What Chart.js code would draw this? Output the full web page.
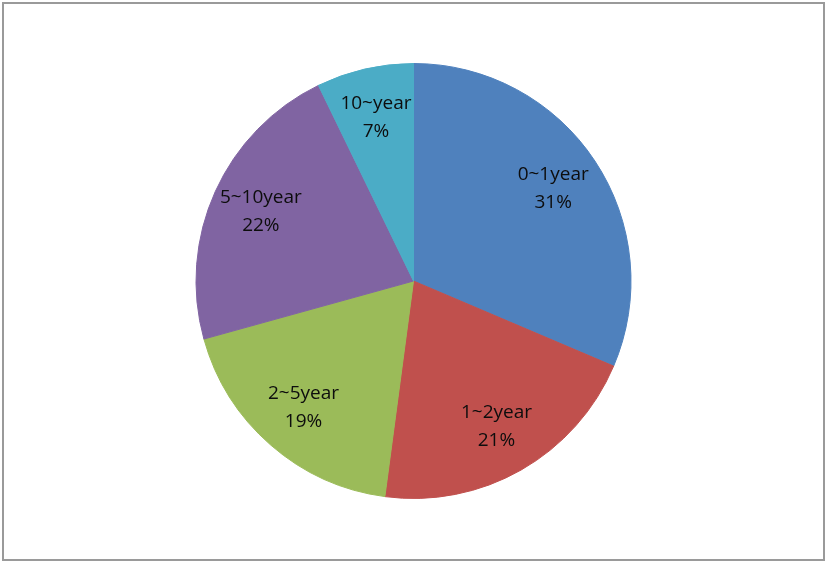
<!DOCTYPE html>
<html>
<head>
<meta charset="utf-8">
<script src="https://cdn.jsdelivr.net/npm/chart.js@4"></script>
<style>
    html, body { margin: 0; padding: 0; background: #ffffff; }
    #wrap { position: relative; width: 827px; height: 563px; }
    #frame {
        position: absolute; left: 2px; top: 2px; width: 819px; height: 555px;
        border: 2px solid #9a9a9a; pointer-events: none;
    }
    canvas { position: absolute; left: 0; top: 0; }
</style>
</head>
<body>
<div id="wrap">
    <canvas id="pieChart" width="827" height="563"></canvas>
    <div id="frame"></div>
</div>
<script>
const categories = ['0~1year', '1~2year', '2~5year', '5~10year', '10~year'];
const shares = [31.4, 20.7, 18.6, 22.1, 7.2];
const sliceColors = ['#4f81bd', '#c0504d', '#9bbb59', '#8064a2', '#4bacc6'];

// Etiquetas dentro de cada porción: nombre + porcentaje
const insideLabels = {
    id: 'insideLabels',
    afterDatasetsDraw(chart) {
        const ctx = chart.ctx;
        const meta = chart.getDatasetMeta(0);
        const total = shares.reduce((a, b) => a + b, 0);
        ctx.save();
        ctx.font = "19px 'Open Sans'";
        ctx.fillStyle = '#0d0d0d';
        ctx.textAlign = 'center';
        ctx.textBaseline = 'middle';
        meta.data.forEach((arc, i) => {
            const p = arc.getProps(['x', 'y', 'startAngle', 'endAngle', 'outerRadius'], true);
            const mid = (p.startAngle + p.endAngle) / 2;
            const r = p.outerRadius * 0.77;
            const cx = p.x + Math.cos(mid) * r;
            const cy = p.y + Math.sin(mid) * r;
            const pct = Math.round(shares[i] / total * 100) + '%';
            ctx.fillText(categories[i], cx, cy - 14);
            ctx.fillText(pct, cx, cy + 14);
        });
        ctx.restore();
    }
};

new Chart(document.getElementById('pieChart'), {
    type: 'pie',
    data: {
        labels: categories,
        datasets: [{
            data: shares,
            backgroundColor: sliceColors,
            borderColor: sliceColors,
            borderWidth: 1
        }]
    },
    options: {
        responsive: false,
        animation: false,
        layout: { padding: { top: 63, bottom: 64 } },
        plugins: {
            legend: { display: false },
            tooltip: { enabled: false }
        }
    },
    plugins: [insideLabels]
});
</script>
</body>
</html>
